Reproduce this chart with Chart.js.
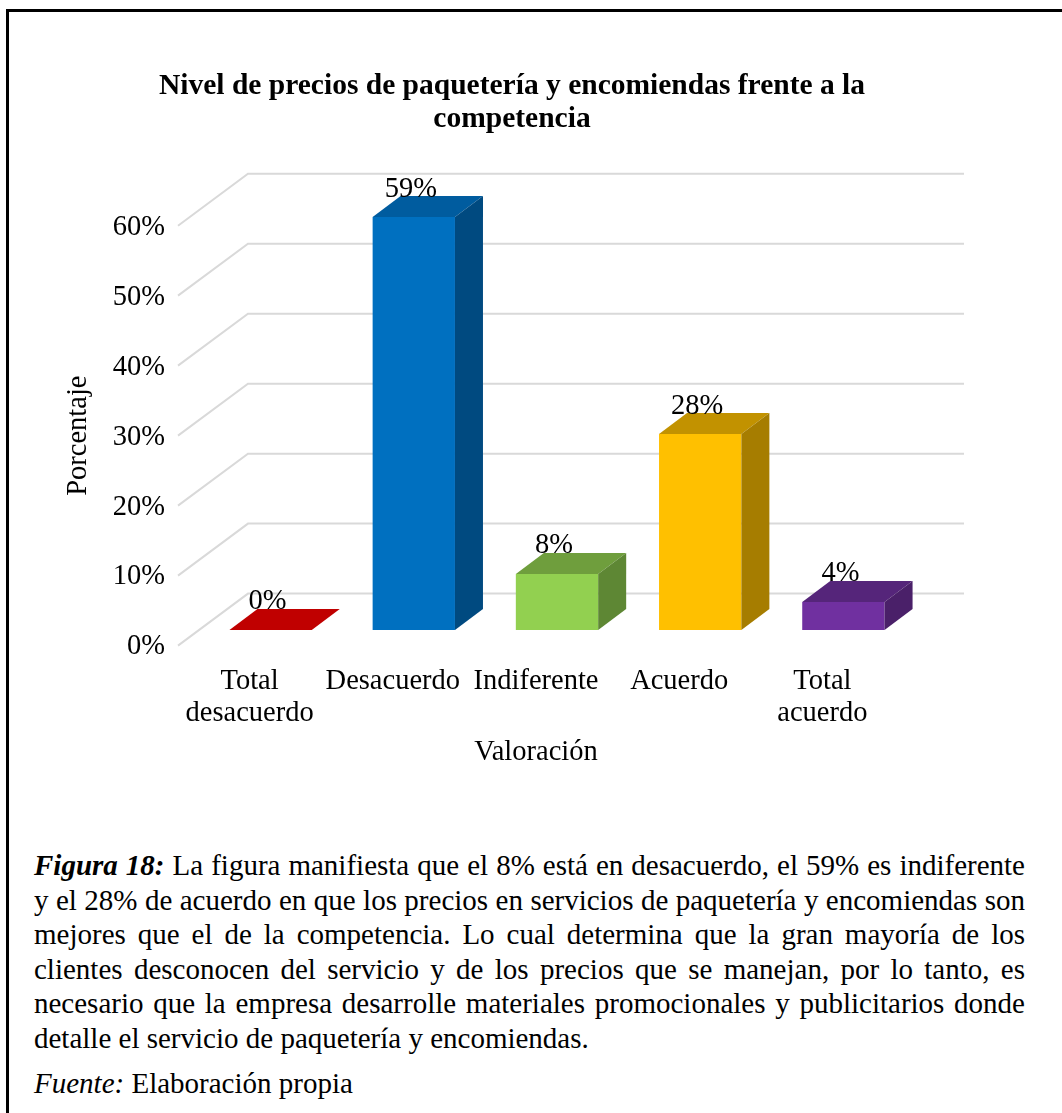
<!DOCTYPE html>
<html lang="es">
<head>
<meta charset="utf-8">
<title>Nivel de precios de paquetería y encomiendas frente a la competencia</title>
<script src="https://cdn.jsdelivr.net/npm/chart.js@4.4.1/dist/chart.umd.min.js"></script>
<style>
  html, body { margin: 0; padding: 0; background: #fff; }
  body { width: 1062px; height: 1113px; position: relative; overflow: hidden; font-family: "Liberation Serif", "Times New Roman", serif; color: #000; }
  #marco { position: absolute; left: 6px; top: 9px; right: -20px; bottom: -20px; border-top: 3px solid #000; border-left: 3px solid #000; }
  #grafico { position: absolute; left: 0; top: 0; width: 1062px; height: 800px; }
  #nota { position: absolute; left: 34px; top: 848px; width: 991px; font-size: 29px; line-height: 34.5px; text-align: justify; margin: 0; }
  #fuente { position: absolute; left: 34px; top: 1066px; font-size: 29px; line-height: 34.5px; margin: 0; }
</style>
</head>
<body>
<div id="marco"></div>
<div id="grafico"><canvas id="precios"></canvas></div>
<p id="nota"><b><i>Figura 18:</i></b> La figura manifiesta que el 8% está en desacuerdo, el 59% es indiferente y el 28% de acuerdo en que los precios en servicios de paquetería y encomiendas son mejores que el de la competencia. Lo cual determina que la gran mayoría de los clientes desconocen del servicio y de los precios que se manejan, por lo tanto, es necesario que la empresa desarrolle materiales promocionales y publicitarios donde detalle el servicio de paquetería y encomiendas.</p>
<p id="fuente"><i>Fuente:</i> Elaboración propia</p>

<script>
// datos
const categorias = [['Total', 'desacuerdo'], 'Desacuerdo', 'Indiferente', 'Acuerdo', ['Total', 'acuerdo']];
const porcentajes = [0, 59, 8, 28, 4];
const ticksY = [0, 10, 20, 30, 40, 50, 60];

// colores: cara frontal, superior y lateral
const colorFrente = ['#C00000', '#0070C0', '#92D050', '#FFC000', '#7030A0'];
const colorArriba = ['#C00000', '#005C9F', '#6F9E3D', '#C29200', '#55257A'];
const colorLado = ['#8E0000', '#004A80', '#5E8734', '#A67D00', '#4A2069'];

// desplazamientos de profundidad (plano de las barras como referencia)
const FRENTE = { dx: -21, dy: 15.6 };
const PROF_BARRA = { dx: 28, dy: -21 };
const FONDO = { dx: 49, dy: -36.4 };

const fuenteTexto = '"Liberation Serif", "Times New Roman", serif';
const tamTexto = 28.5;
Chart.defaults.font.family = fuenteTexto;
Chart.defaults.color = '#000';

const efecto3d = {
    id: 'efecto3d',
    beforeDatasetsDraw(chart) {
        const { ctx, chartArea: a, scales: { y } } = chart;
        ctx.save();
        ctx.strokeStyle = '#D9D9D9';
        ctx.lineWidth = 2;
        ticksY.forEach(v => {
            const py = y.getPixelForValue(v);
            ctx.beginPath();
            ctx.moveTo(a.left + FRENTE.dx, py + FRENTE.dy);
            ctx.lineTo(a.left + FONDO.dx, py + FONDO.dy);
            ctx.lineTo(a.right + FONDO.dx, py + FONDO.dy);
            ctx.stroke();
        });
        ctx.restore();
    },
    afterDatasetsDraw(chart) {
        const { ctx, chartArea: a, scales: { y } } = chart;
        const barras = chart.getDatasetMeta(0).data;
        ctx.save();
        barras.forEach((b, i) => {
            const izq = b.x - b.width / 2;
            const der = b.x + b.width / 2;
            // cara superior
            ctx.fillStyle = colorArriba[i];
            ctx.beginPath();
            ctx.moveTo(izq, b.y);
            ctx.lineTo(der, b.y);
            ctx.lineTo(der + PROF_BARRA.dx, b.y + PROF_BARRA.dy);
            ctx.lineTo(izq + PROF_BARRA.dx, b.y + PROF_BARRA.dy);
            ctx.closePath();
            ctx.fill();
            // cara lateral
            if (b.base - b.y > 0.5) {
                ctx.fillStyle = colorLado[i];
                ctx.beginPath();
                ctx.moveTo(der, b.y);
                ctx.lineTo(der + PROF_BARRA.dx, b.y + PROF_BARRA.dy);
                ctx.lineTo(der + PROF_BARRA.dx, b.base + PROF_BARRA.dy);
                ctx.lineTo(der, b.base);
                ctx.closePath();
                ctx.fill();
            }
        });

        // etiquetas de datos
        ctx.fillStyle = '#000';
        ctx.font = tamTexto + 'px ' + fuenteTexto;
        ctx.textAlign = 'center';
        ctx.textBaseline = 'middle';
        barras.forEach((b, i) => {
            ctx.fillText(porcentajes[i] + '%', b.x - 3, b.y - 28);
        });

        // titulos de ejes (en el plano frontal)
        const cx = (a.left + a.right) / 2 + FRENTE.dx;
        ctx.fillText('Valoración', cx, 753);
        ctx.translate(79, (y.getPixelForValue(0) + y.getPixelForValue(60)) / 2 + FRENTE.dy);
        ctx.rotate(-Math.PI / 2);
        ctx.fillText('Porcentaje', 0, 0);
        ctx.restore();
    }
};

const ctx = document.getElementById('precios').getContext('2d');
const grafico = new Chart(ctx, {
    type: 'bar',
    data: {
        labels: categorias,
        datasets: [{
            data: porcentajes,
            backgroundColor: colorFrente,
            borderWidth: 0,
            barPercentage: 0.575,
            categoryPercentage: 1.0
        }]
    },
    options: {
        responsive: true,
        maintainAspectRatio: false,
        animation: false,
        layout: { padding: { left: 60, right: 98, top: 0, bottom: 0 } },
        plugins: {
            legend: { display: false },
            tooltip: { enabled: false },
            title: {
                display: true,
                text: ['Nivel de precios de paquetería y encomiendas frente a la', 'competencia'],
                font: { size: 29.5, weight: 'bold', lineHeight: 1.12 },
                color: '#000',
                padding: { top: 70, bottom: 74 }
            }
        },
        scales: {
            x: {
                grid: { display: false },
                border: { display: false },
                ticks: {
                    font: { size: tamTexto, lineHeight: 1.12 },
                    padding: 28,
                    labelOffset: FRENTE.dx,
                    maxRotation: 0,
                    autoSkip: false
                },
                afterFit(s) { s.height = 170; }
            },
            y: {
                min: ticksY[0],
                max: ticksY[ticksY.length - 1],
                grid: { display: false },
                border: { display: false },
                ticks: {
                    stepSize: 10,
                    font: { size: tamTexto },
                    padding: 26,
                    labelOffset: 17,
                    callback: v => v + '%'
                },
                afterFit(s) { s.width = 139; }
            },
            yFondo: {
                type: 'linear',
                position: 'right',
                min: 0,
                max: 1,
                grid: { display: false },
                border: { display: false },
                ticks: { display: false },
                afterFit(s) { s.width = 49; }
            }
        }
    },
    plugins: [efecto3d]
});
</script>
</body>
</html>
